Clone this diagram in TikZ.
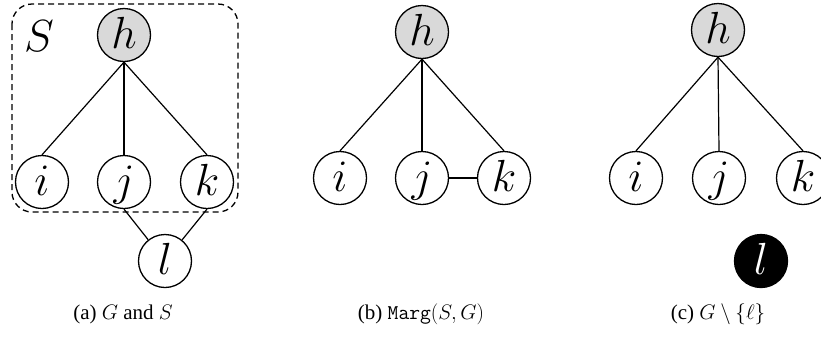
\RequirePackage{fix-cm}
\documentclass[tikz,border=0pt]{standalone}
\usepackage{fontspec}
\setmainfont{Liberation Serif}
\begin{document}
\begin{tikzpicture}[x=1pt,y=-1pt,
  vnode/.style={circle,draw,line width=1.3pt,minimum size=53pt,inner sep=0pt,
    font=\fontsize{45}{45}\selectfont,text height=32pt,text depth=6pt},
  hnode/.style={vnode,fill=gray!30},
  gone/.style={vnode,fill=black,text=white},
  edge/.style={line width=1.2pt},
  grp/.style={draw,dashed,dash pattern=on 6pt off 4pt,line width=1.3pt,rounded corners=20pt},
  captext/.style={font=\fontsize{21}{21}\selectfont,anchor=center}]
\useasboundingbox (0,0) rectangle (821,341);
% panel (a)
\draw[grp] (12,4) rectangle (238,212);
\node[font=\fontsize{45}{45}\selectfont] (S) at (39,36) {$S$};
\node[hnode] (ha) at (124,35) {$h$};
\node[vnode] (ia) at (42,182) {$i$};
\node[vnode] (ja) at (124,182) {$j$};
\node[vnode] (ka) at (207,182) {$k$};
\node[vnode] (la) at (165,261) {$l$};
\draw[edge] (ha.south) -- (ia.north);
\draw[edge] (ha.south) -- (ja.north);
\draw[edge] (ha.south) -- (ka.north);
\draw[edge] (ja.south) -- (la);
\draw[edge] (ka.south) -- (la);
% panel (b)
\node[hnode] (hb) at (422,32) {$h$};
\node[vnode] (ib) at (340,178) {$i$};
\node[vnode] (jb) at (422,178) {$j$};
\node[vnode] (kb) at (504,178) {$k$};
\draw[edge] (hb.south) -- (ib.north);
\draw[edge] (hb.south) -- (jb.north);
\draw[edge] (hb.south) -- (kb.north);
\draw[edge] (jb.east) -- (kb.west);
% panel (c)
\node[hnode] (hc) at (718,30) {$h$};
\node[vnode] (ic) at (636,178) {$i$};
\node[vnode] (jc) at (719,178) {$j$};
\node[vnode] (kc) at (803,178) {$k$};
\node[gone] (lc) at (761,261) {$l$};
\draw[edge] (hc.south) -- (ic.north);
\draw[edge] (hc.south) -- (jc.north);
\draw[edge] (hc.south) -- (kc.north);
% captions
\node[captext] (capa) at (123,314) {(a) $G$ and $S$};
\node[captext] (capb) at (421,314) {(b) \texttt{Marg}$(S,G)$};
\node[captext] (capc) at (718,314) {(c) $G\setminus\{\ell\}$};
\end{tikzpicture}
\end{document}
